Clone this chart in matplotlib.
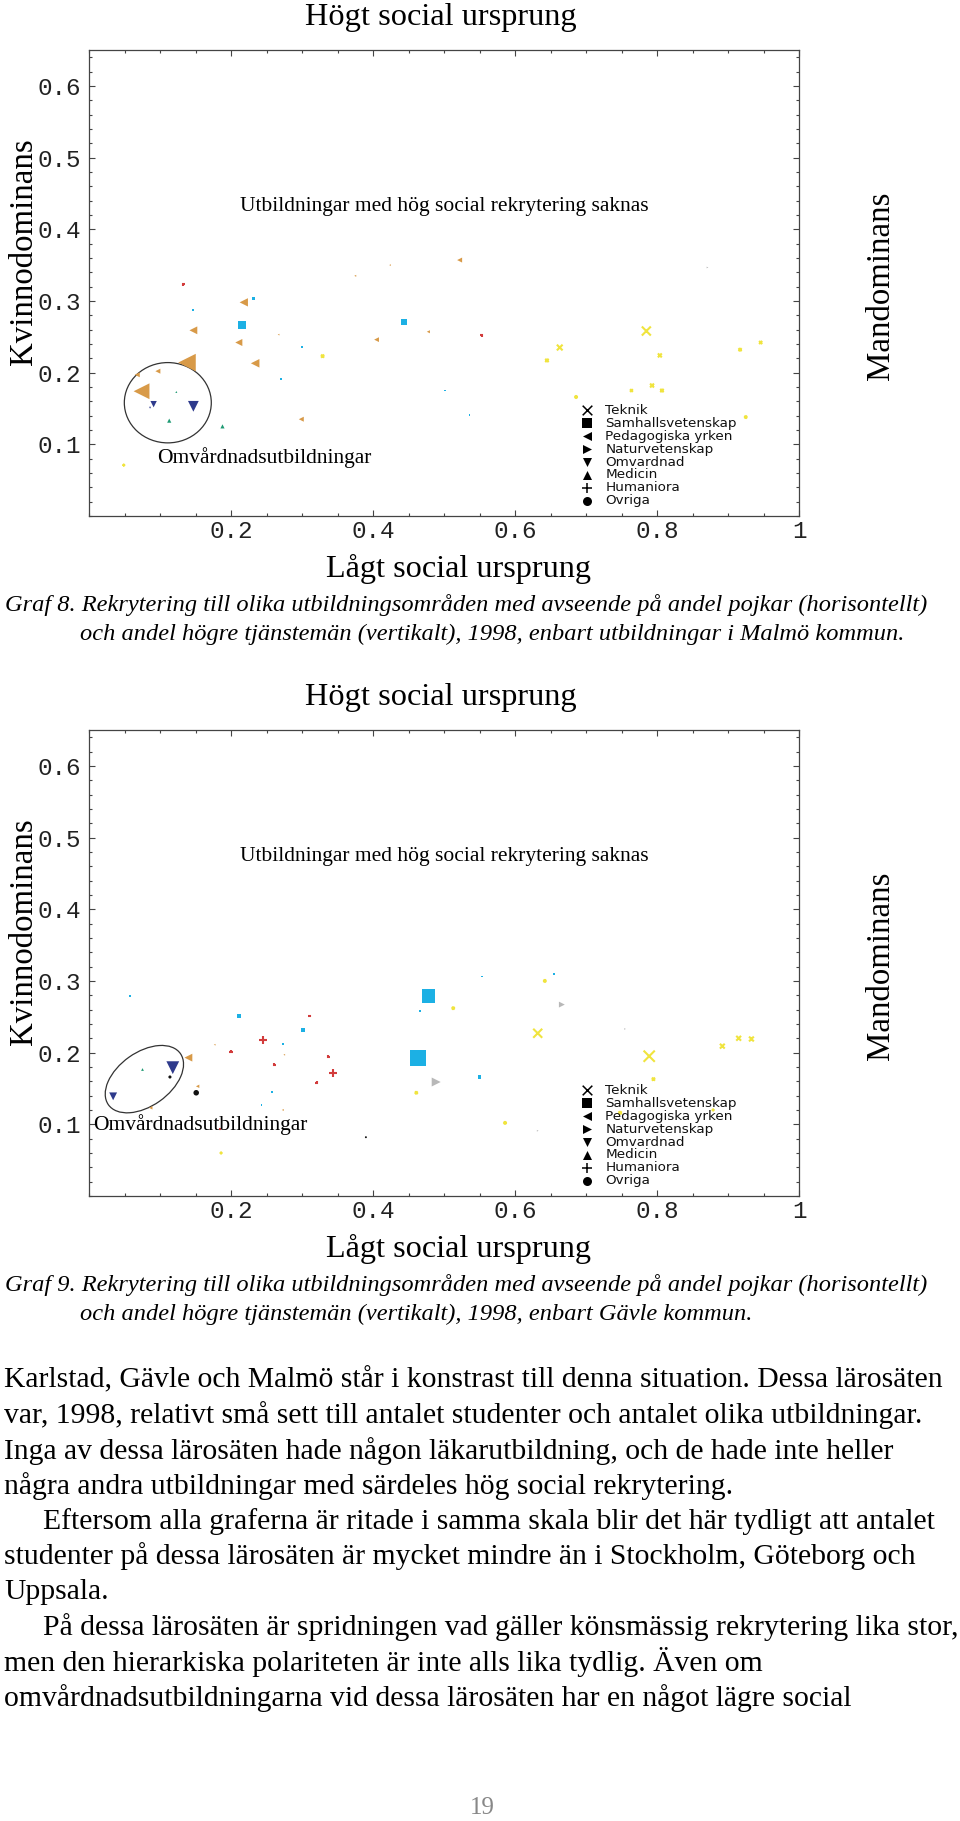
import matplotlib
matplotlib.use("Agg")
import matplotlib.pyplot as plt
from matplotlib.patches import Ellipse
from matplotlib.ticker import MultipleLocator

W, H = 960, 1821

categories = ["Teknik", "Samhallsvetenskap", "Pedagogiska yrken", "Naturvetenskap",
              "Omvardnad", "Medicin", "Humaniora", "Ovriga"]
markers = ["x", "s", "<", ">", "v", "^", "+", "o"]
colors = ["#F0E43E", "#1CB0E4", "#D89A48", "#B8B8B8",
          "#2E3A8C", "#1E9A73", "#D23C3C", "#111111"]

# Graf 8 - Malmö: category, andel pojkar, andel högre tjänstemän, antal (marker area)
malmo_cat = ["Teknik"] * 13 + ["Samhallsvetenskap"] * 8 + ["Pedagogiska yrken"] * 15 \
    + ["Naturvetenskap"] + ["Omvardnad"] * 3 + ["Medicin"] * 3 + ["Humaniora"] * 2
malmo_x = [0.785, 0.663, 0.645, 0.804, 0.917, 0.946, 0.793, 0.807, 0.764, 0.686, 0.925, 0.329, 0.049,
           0.215, 0.444, 0.232, 0.146, 0.300, 0.270, 0.501, 0.536,
           0.138, 0.074, 0.218, 0.147, 0.211, 0.234, 0.097, 0.068, 0.299, 0.522, 0.405, 0.478, 0.267, 0.375, 0.424,
           0.871,
           0.147, 0.091, 0.086,
           0.113, 0.188, 0.123,
           0.133, 0.553]
malmo_y = [0.258, 0.235, 0.217, 0.224, 0.232, 0.242, 0.182, 0.175, 0.175, 0.166, 0.138, 0.223, 0.071,
           0.266, 0.270, 0.303, 0.287, 0.236, 0.191, 0.175, 0.141,
           0.214, 0.174, 0.298, 0.259, 0.242, 0.213, 0.202, 0.197, 0.135, 0.357, 0.246, 0.257, 0.253, 0.335, 0.350,
           0.347,
           0.153, 0.156, 0.151,
           0.133, 0.125, 0.173,
           0.323, 0.252]
malmo_n = [42, 17, 6, 8, 5, 5, 8, 6, 4, 4, 4, 5, 2,
           32, 18, 4, 2, 2, 2, 1.5, 1.5,
           160, 130, 36, 32, 26, 38, 13, 13, 13, 13, 12, 5, 1.5, 2, 1.5,
           1.5,
           60, 21, 2,
           9, 9, 2,
           4, 4]

# Graf 9 - Gävle
gavle_cat = ["Teknik"] * 13 + ["Samhallsvetenskap"] * 12 + ["Pedagogiska yrken"] * 6 \
    + ["Naturvetenskap"] * 4 + ["Omvardnad"] * 2 + ["Medicin"] + ["Humaniora"] * 8 + ["Ovriga"] * 3
gavle_x = [0.789, 0.632, 0.892, 0.915, 0.933, 0.795, 0.642, 0.513, 0.461, 0.586, 0.748, 0.879, 0.186,
           0.463, 0.478, 0.211, 0.301, 0.550, 0.058, 0.273, 0.258, 0.243, 0.466, 0.554, 0.655,
           0.140, 0.153, 0.087, 0.177, 0.275, 0.273,
           0.489, 0.666, 0.755, 0.632,
           0.118, 0.034,
           0.074,
           0.245, 0.344, 0.311, 0.200, 0.337, 0.261, 0.321, 0.185,
           0.151, 0.114, 0.390]
gavle_y = [0.195, 0.227, 0.209, 0.220, 0.219, 0.163, 0.300, 0.262, 0.144, 0.102, 0.116, 0.120, 0.060,
           0.192, 0.279, 0.251, 0.232, 0.166, 0.279, 0.212, 0.145, 0.127, 0.258, 0.306, 0.310,
           0.193, 0.153, 0.123, 0.211, 0.197, 0.120,
           0.159, 0.267, 0.233, 0.091,
           0.179, 0.139,
           0.177,
           0.217, 0.171, 0.251, 0.201, 0.194, 0.183, 0.158, 0.093,
           0.144, 0.166, 0.082]
gavle_n = [65, 42, 12, 12, 12, 5, 4, 4, 4, 4, 5, 2, 2,
           130, 90, 6, 8, 6, 1.5, 1.5, 1.5, 1.5, 1.5, 1.5, 2,
           32, 6, 6, 1.5, 1.5, 2,
           42, 18, 1.5, 1.5,
           85, 32,
           4,
           32, 32, 4, 5, 5, 5, 5, 2,
           16, 5, 2]

body = [
    "Karlstad, Gävle och Malmö står i konstrast till denna situation. Dessa lärosäten",
    "var, 1998, relativt små sett till antalet studenter och antalet olika utbildningar.",
    "Inga av dessa lärosäten hade någon läkarutbildning, och de hade inte heller",
    "några andra utbildningar med särdeles hög social rekrytering.",
    "Eftersom alla graferna är ritade i samma skala blir det här tydligt att antalet",
    "studenter på dessa lärosäten är mycket mindre än i Stockholm, Göteborg och",
    "Uppsala.",
    "På dessa lärosäten är spridningen vad gäller könsmässig rekrytering lika stor,",
    "men den hierarkiska polariteten är inte alls lika tydlig. Även om",
    "omvårdnadsutbildningarna vid dessa lärosäten har en något lägre social",
]
indented = [4, 7]

SERIF = "Liberation Serif"
MONO = "Liberation Mono"

fig = plt.figure(figsize=(W / 100, H / 100), dpi=100)


def ftext(px, py, s, **kw):
    fig.text(px / W, 1 - py / H, s, **kw)


def chart(top, cat, xs, ys, ns, note_y, ell, omv_xy, caption2, num):
    left, right, bottom = 89, 799, top + 466
    ax = fig.add_axes([left / W, 1 - bottom / H, (right - left) / W, (bottom - top) / H])
    for c, m, col in zip(categories, markers, colors):
        idx = [i for i, k in enumerate(cat) if k == c]
        if not idx:
            continue
        px = [xs[i] for i in idx]
        py = [ys[i] for i in idx]
        ps = [ns[i] for i in idx]
        if m in ("x", "+"):
            ax.scatter(px, py, s=ps, marker=m, c=col, linewidths=1.5, zorder=3)
        else:
            ax.scatter(px, py, s=ps, marker=m, c=col, linewidths=0, zorder=3)
    ax.set_xlim(0, 1)
    ax.set_ylim(0, 0.65)
    ax.set_xticks([0.2, 0.4, 0.6, 0.8, 1.0], ["0.2", "0.4", "0.6", "0.8", "1"])
    ax.set_yticks([0.1, 0.2, 0.3, 0.4, 0.5, 0.6], ["0.1", "0.2", "0.3", "0.4", "0.5", "0.6"])
    ax.xaxis.set_minor_locator(MultipleLocator(0.05))
    ax.yaxis.set_minor_locator(MultipleLocator(0.02))
    ax.tick_params(which="both", direction="in", top=True, right=True, color="#444444", width=0.8)
    ax.tick_params(which="major", length=4)
    ax.tick_params(which="minor", length=2.2)
    ax.tick_params(axis="y", pad=6)
    ax.tick_params(axis="x", pad=3)
    for lab in ax.get_xticklabels() + ax.get_yticklabels():
        lab.set_fontfamily(MONO)
        lab.set_fontsize(17.5)
        lab.set_color("#222222")
    for sp in ax.spines.values():
        sp.set_color("#444444")
        sp.set_linewidth(0.9)

    ax.text(0.5, note_y, "Utbildningar med hög social rekrytering saknas", ha="center", va="center",
            family=SERIF, fontsize=15.5)
    ax.text(omv_xy[0], omv_xy[1], "Omvårdnadsutbildningar", ha="left", va="center",
            family=SERIF, fontsize=15.5)
    ax.add_patch(Ellipse(ell[:2], ell[2], ell[3], angle=ell[4], fill=False,
                         edgecolor="#333333", linewidth=0.9, zorder=2))

    # legend
    for i, (c, m) in enumerate(zip(categories, markers)):
        yy = 0.227 - i * 0.0278
        if m in ("x", "+"):
            ax.scatter([0.701], [yy], s=48, marker=m, c="black", linewidths=1.1,
                       transform=ax.transAxes, clip_on=False, zorder=4)
        else:
            ax.scatter([0.701], [yy], s=42, marker=m, c="black", linewidths=0,
                       transform=ax.transAxes, clip_on=False, zorder=4)
        ax.text(0.727, yy, c, transform=ax.transAxes, ha="left", va="center",
                family="DejaVu Sans", fontsize=9.7, color="#111111")

    ftext(441, top - 33, "Högt social ursprung", ha="center", va="center", family=SERIF, fontsize=23.3)
    ftext(459, bottom + 53, "Lågt social ursprung", ha="center", va="center", family=SERIF, fontsize=23.2)
    ftext(24, top + 202, "Kvinnodominans", ha="center", va="center", rotation=90,
          family=SERIF, fontsize=23.7)
    ftext(881, top + 236, "Mandominans", ha="center", va="center", rotation=90,
          family=SERIF, fontsize=23.7)
    ftext(5, bottom + 89, "Graf %d. Rekrytering till olika utbildningsområden med avseende på andel "
          "pojkar (horisontellt)" % num, ha="left", va="center", family=SERIF, style="italic",
          fontsize=17.6)
    ftext(80, bottom + 118, caption2, ha="left", va="center", family=SERIF, style="italic",
          fontsize=17.6)
    return ax


chart(50, malmo_cat, malmo_x, malmo_y, malmo_n, 0.432,
      (0.111, 0.158, 0.1225, 0.112, 0), (0.096, 0.082),
      "och andel högre tjänstemän (vertikalt), 1998, enbart utbildningar i Malmö kommun.", 8)
chart(730, gavle_cat, gavle_x, gavle_y, gavle_n, 0.474,
      (0.078, 0.163, 0.124, 0.075, 35), (0.006, 0.1),
      "och andel högre tjänstemän (vertikalt), 1998, enbart Gävle kommun.", 9)

for i, line in enumerate(body):
    ftext(43 if i in indented else 4, 1380 + 35.3 * i, line, ha="left", va="center",
          family=SERIF, fontsize=21.3)

ftext(482, 1808, "19", ha="center", va="center", family=SERIF, fontsize=18, color="#888888")

fig.savefig("out.png", dpi=100, facecolor="white")
